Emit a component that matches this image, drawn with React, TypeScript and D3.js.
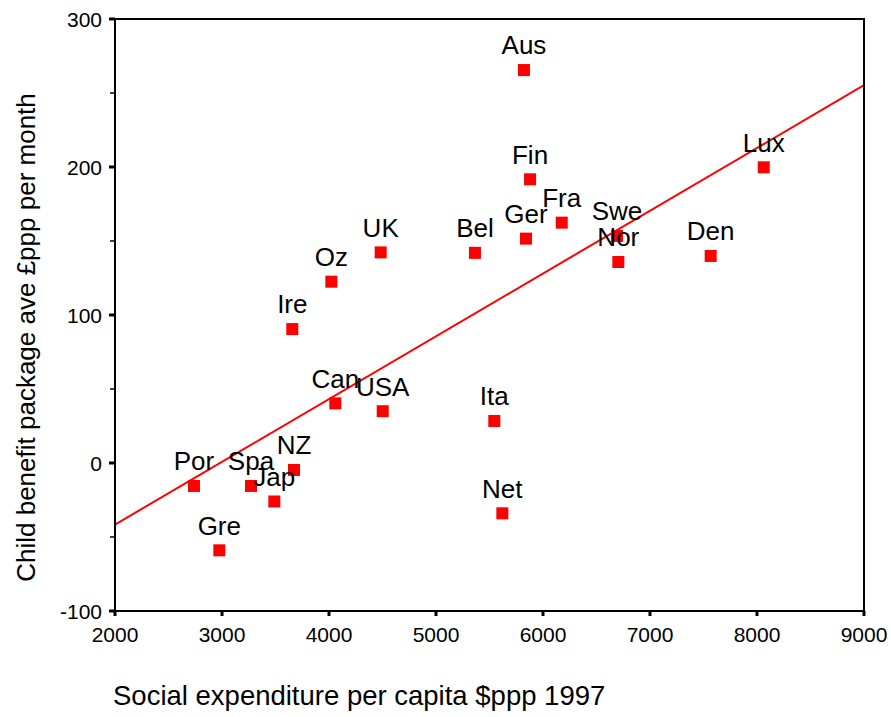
import React from "react";
import * as d3 from "d3";

const countries = ["Por","Spa","NZ","Jap","Gre","Can","USA","Ire","Oz","UK","Bel","Ger","Aus","Fin","Fra","Swe","Nor","Den","Lux","Ita","Net"];
const spending = [2738,3271,3673,3489,2975,4059,4502,3657,4022,4483,5364,5841,5822,5879,6175,6692,6704,7567,8063,5545,5620];
const benefit = [-15.5,-15.5,-4.7,-26,-59,40.3,35,90.5,122.5,142.3,142,151.6,265.5,191.7,162.4,153.4,135.8,139.9,199.8,28.4,-34];
const xTicks = [2000,3000,4000,5000,6000,7000,8000,9000];
const yTicks = [300,200,100,0,-100];
const yMinorTicks = [250,150,50,-50];
const xTitle = "Social expenditure per capita $ppp 1997";
const yTitle = "Child benefit package ave £ppp per month";

const W = 891, H = 717;
const L = 115, R = 864, T = 19, B = 611;
const FONT = "'Liberation Sans', Arial, Helvetica, sans-serif";

export default function App() {
  const x = d3.scaleLinear().domain([2000, 9000]).range([L, R]);
  const y = d3.scaleLinear().domain([-100, 300]).range([B, T]);

  const mx = d3.mean(spending)!;
  const my = d3.mean(benefit)!;
  let sxy = 0, sxx = 0;
  spending.forEach((v, i) => { sxy += (v - mx) * (benefit[i] - my); sxx += (v - mx) * (v - mx); });
  const slope = sxy / sxx;
  const intercept = my - slope * mx;
  const fit = (v: number) => intercept + slope * v;
  const line = d3.line<number>().x(v => x(v)).y(v => y(fit(v)));

  return (
    <svg width={W} height={H} style={{ position: "absolute", left: 0, top: 0, background: "#fff" }}>
      <defs>
        <clipPath id="plot"><rect x={L} y={T} width={R - L} height={B - T} /></clipPath>
      </defs>
      <rect x={0} y={0} width={W} height={H} fill="#fff" />
      <path d={line([2000, 9000]) || ""} stroke="#ff0000" strokeWidth={2} fill="none" clipPath="url(#plot)" />
      <rect x={L} y={T} width={R - L} height={B - T} fill="none" stroke="#000" strokeWidth={2} />
      {yTicks.map(t => (
        <g key={"y" + t}>
          <line x1={L - 6} x2={L} y1={y(t)} y2={y(t)} stroke="#000" strokeWidth={3} />
          <text x={102} y={y(t) + 7.5} textAnchor="end" fontFamily={FONT} fontSize={21} fill="#000">{t}</text>
        </g>
      ))}
      {yMinorTicks.map(t => (
        <line key={"ym" + t} x1={L - 5} x2={L} y1={y(t)} y2={y(t)} stroke="#000" strokeWidth={1.5} />
      ))}
      {xTicks.map(t => (
        <g key={"x" + t}>
          <line x1={x(t)} x2={x(t)} y1={B} y2={B + 5} stroke="#000" strokeWidth={3} />
          <text x={x(t)} y={642} textAnchor="middle" fontFamily={FONT} fontSize={21} fill="#000">{t}</text>
        </g>
      ))}
      {countries.map((c, i) => (
        <g key={c}>
          <rect x={x(spending[i]) - 6} y={y(benefit[i]) - 6} width={12} height={12} fill="#ff0000" />
        </g>
      ))}
      {countries.map((c, i) => (
        <text key={"t" + c} x={x(spending[i])} y={y(benefit[i]) - 15.7} textAnchor="middle" fontFamily={FONT} fontSize={26} fill="#000">{c}</text>
      ))}
      <text x={113} y={705} fontFamily={FONT} fontSize={27.5} fill="#000">{xTitle}</text>
      <text transform={`translate(35,${337.5}) rotate(-90)`} textAnchor="middle" fontFamily={FONT} fontSize={26} fill="#000">{yTitle}</text>
    </svg>
  );
}
